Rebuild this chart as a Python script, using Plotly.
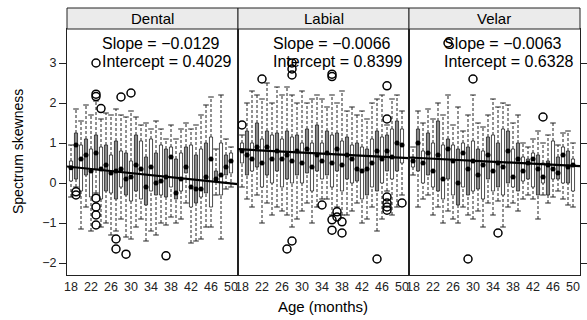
import plotly.graph_objects as go

W, H = 587, 320

ages = list(range(18, 51))
panels = ["Dental", "Labial", "Velar"]
slopes = [-0.0129, -0.0066, -0.0063]
intercepts = [0.4029, 0.8399, 0.6328]
slope_labels = ["Slope = −0.0129", "Slope = −0.0066", "Slope = −0.0063"]
intercept_labels = ["Intercept = 0.4029", "Intercept = 0.8399", "Intercept = 0.6328"]
x_ticks = [18, 22, 26, 30, 34, 38, 42, 46, 50]
y_ticks = [-2, -1, 0, 1, 2, 3]
y_tick_text = ["−2", "−1", "0", "1", "2", "3"]

# ---- Dental ----
dental_lo = [-0.35, -0.1, -1.15, -0.6, -1.2, -0.25, -1.1, -1.0, -1.3, -1.2, -0.9, -1.35, -1.4, -1.1, -0.9, -1.45, -1.2,
             -1.3, -1.0, -1.05, -0.85, -1.0, -0.9, -0.5, -1.5, -1.45, -1.4, -1.1, -1.1, -0.3, -1.4, -0.15, -0.1]
dental_q1 = [0.05, 0.1, -0.2, 0.2, -0.35, 0.35, -0.4, -0.2, -0.25, -0.4, -0.1, -0.3, -0.45, -0.2, -0.4, -0.55, -0.2,
             -0.3, -0.3, -0.35, -0.1, -0.4, -0.2, 0.25, -0.6, -0.5, -0.35, -0.25, -0.6, 0.05, -0.3, 0.2, 0.25]
dental_med = [0.38, 0.95, 0.6, 0.7, 0.3, 0.75, 0.35, 0.45, 0.25, 0.3, 0.35, 0.1, 0.15, 0.45, 0.35, -0.1, 0.4,
              0.0, 0.05, 0.15, 0.65, -0.25, 0.1, 0.4, -0.1, -0.15, -0.15, 0.15, 0.6, 0.1, 0.2, 0.4, 0.55]
dental_q3 = [0.55, 1.25, 0.95, 1.1, 0.85, 1.2, 0.9, 0.95, 0.7, 1.05, 0.8, 0.75, 0.55, 1.2, 1.05, 0.65, 1.1,
             0.75, 0.95, 0.85, 0.9, 0.6, 0.75, 0.9, 0.95, 0.7, 0.85, 1.0, 1.15, 0.3, 1.0, 0.7, 0.75]
dental_hi = [0.95, 1.85, 1.55, 1.95, 1.7, 2.05, 1.6, 1.75, 1.7, 1.85, 1.7, 1.65, 1.8, 1.65, 1.45, 1.5, 1.35,
             1.55, 1.35, 1.1, 1.45, 1.1, 1.35, 1.5, 1.35, 1.45, 1.7, 1.95, 2.15, 0.85, 2.2, 1.1, 0.9]
dental_out_x = [23, 23, 23, 24, 28, 30, 19, 19, 23, 23, 23, 23, 27, 27, 29, 37]
dental_out_y = [3.0, 2.22, 2.16, 1.86, 2.15, 2.25, -0.22, -0.3, -0.38, -0.6, -0.8, -1.05, -1.4, -1.65, -1.78, -1.82]

# ---- Labial ----
labial_lo = [-0.1, -0.4, -0.6, -0.3, -1.0, -0.5, -0.8, -0.6, -0.7, -0.8, -1.1, -0.9, -0.7, -0.5, -1.0, -0.6, -0.4,
             -0.4, -0.8, -0.6, -0.8, -0.8, -0.7, -0.5, -1.0, -0.9, -0.6, -1.2, -0.9, -0.2, -0.8, -0.6, -0.3]
labial_q1 = [0.5, 0.2, 0.3, 0.4, -0.1, 0.2, 0.0, 0.3, -0.1, 0.1, 0.0, 0.2, 0.0, 0.25, -0.2, 0.3, 0.1,
             0.2, -0.1, 0.3, -0.2, 0.1, 0.0, 0.05, -0.4, -0.3, -0.1, -0.2, 0.0, 0.3, 0.1, 0.3, 0.5]
labial_med = [0.8, 0.7, 0.6, 0.9, 0.5, 0.9, 0.6, 0.8, 0.6, 0.7, 0.55, 0.8, 0.5, 0.85, 0.4, 0.7, 0.55,
              0.75, 0.5, 0.85, 0.45, 0.7, 0.6, 0.35, 0.3, 0.35, 0.5, 0.8, 0.6, 0.8, 0.65, 1.0, 0.95]
labial_q3 = [1.0, 1.3, 1.0, 1.5, 1.1, 1.3, 1.2, 1.25, 1.1, 1.3, 1.15, 1.2, 1.0, 1.35, 1.0, 1.45, 1.0,
             1.3, 1.2, 1.25, 1.05, 1.15, 0.95, 1.0, 0.9, 0.85, 1.1, 1.3, 1.15, 1.2, 1.35, 1.55, 1.35]
labial_hi = [1.2, 2.0, 2.3, 2.2, 2.1, 2.5, 2.0, 2.4, 2.2, 2.4, 2.2, 2.0, 2.3, 2.0, 2.1, 2.2, 2.1,
             1.9, 2.2, 2.0, 2.3, 1.8, 1.9, 1.7, 1.8, 1.6, 2.0, 2.1, 2.2, 1.45, 2.1, 2.2, 1.8]
labial_out_x = [22, 28, 28, 28, 36, 36, 47, 47, 18, 34, 37, 37, 36, 38, 36, 38, 28, 27, 45, 47, 47, 47, 47, 50]
labial_out_y = [2.6, 3.0, 2.85, 2.7, 2.72, 2.66, 2.43, 1.6, 1.45, -0.55, -0.72, -0.85, -0.92, -0.97, -1.18, -1.25,
                -1.45, -1.65, -1.9, -0.35, -0.5, -0.6, -0.68, -0.5]

# ---- Velar ----
velar_lo = [0.2, -0.6, -0.4, -0.3, -0.8, -0.6, -1.0, -0.7, -0.9, -1.0, -0.6, -0.8, -0.9, -0.7, -1.1, -0.5, -0.8,
            -0.45, -1.1, -0.6, -0.5, -0.7, -0.4, -0.3, -0.4, -0.9, -0.3, -0.5, -0.35, -0.2, -0.4, -0.55, -0.6]
velar_q1 = [0.4, 0.3, 0.0, 0.2, -0.1, -0.2, -0.4, 0.1, -0.3, -0.55, -0.1, -0.3, -0.2, -0.15, -0.4, 0.1, -0.2,
            -0.1, -0.3, 0.0, -0.1, -0.2, 0.05, 0.1, -0.1, -0.3, 0.0, -0.3, 0.1, 0.1, 0.0, 0.0, -0.2]
velar_med = [0.55, 1.0, 0.5, 0.75, 0.3, 0.7, 0.1, 0.85, 0.55, 0.0, 0.75, 0.35, 0.55, 0.2, 0.45, 0.7, 0.3,
             0.5, 0.4, 0.8, 0.15, 0.6, 0.3, 0.5, 0.6, 0.35, 0.15, 0.45, 0.35, 0.25, 0.7, 0.4, 0.45]
velar_q3 = [0.65, 1.35, 0.8, 1.25, 1.0, 1.55, 0.95, 1.1, 0.95, 0.85, 1.0, 0.9, 1.05, 0.85, 0.8, 1.15, 1.2,
            1.0, 1.35, 1.3, 0.85, 1.0, 0.65, 0.6, 0.75, 0.7, 0.5, 0.55, 1.05, 0.65, 0.9, 0.8, 0.6]
velar_hi = [0.9, 1.8, 1.5, 1.85, 1.6, 2.0, 1.7, 2.2, 1.45, 1.9, 1.3, 1.7, 2.2, 1.5, 1.4, 1.7, 2.1,
            1.9, 2.0, 1.95, 1.5, 1.7, 1.0, 0.9, 1.1, 1.3, 1.0, 1.2, 1.5, 0.95, 1.25, 1.3, 1.0]
velar_out_x = [25, 30, 44, 35, 29]
velar_out_y = [3.5, 2.6, 1.65, -1.25, -1.9]

data = [
    (dental_lo, dental_q1, dental_med, dental_q3, dental_hi, dental_out_x, dental_out_y),
    (labial_lo, labial_q1, labial_med, labial_q3, labial_hi, labial_out_x, labial_out_y),
    (velar_lo, velar_q1, velar_med, velar_q3, velar_hi, velar_out_x, velar_out_y),
]

FONT = "Liberation Sans, Arial, Helvetica, sans-serif"
XR = [17.2, 51.4]
YR = [-2.3, 3.85]

# panel pixel geometry
panel_left = [67, 238, 409]
panel_w = 171
panel_top, panel_bot = 29, 275
strip_top = 8

fig = go.Figure()
annotations = []
shapes = []

for i, (name, d) in enumerate(zip(panels, data)):
    lo, q1, med, q3, hi, ox, oy = d
    xa = "x" if i == 0 else f"x{i+1}"
    ya = "y" if i == 0 else f"y{i+1}"

    # whiskers (dashed)
    wx, wy = [], []
    for a, l, b1, b3, h in zip(ages, lo, q1, q3, hi):
        wx += [a, a, None, a, a, None]
        wy += [b3, h, None, l, b1, None]
    fig.add_trace(go.Scatter(x=wx, y=wy, mode="lines", xaxis=xa, yaxis=ya,
                             line=dict(color="#222", width=1, dash="3px,2px"),
                             hoverinfo="skip", showlegend=False))
    # caps
    fig.add_trace(go.Scatter(x=ages + ages, y=hi + lo, mode="markers", xaxis=xa, yaxis=ya,
                             marker=dict(symbol="line-ew", size=4, line=dict(color="#222", width=1)),
                             hoverinfo="skip", showlegend=False))
    # boxes
    fills = ["#8a8a8a" if k % 2 else "white" for k in range(len(ages))]
    fig.add_trace(go.Bar(x=ages, y=[b - a for a, b in zip(q1, q3)], base=q1, width=0.62,
                         xaxis=xa, yaxis=ya,
                         marker=dict(color=fills, line=dict(color="#222", width=0.8)),
                         hoverinfo="skip", showlegend=False))
    # medians
    fig.add_trace(go.Scatter(x=ages, y=med, mode="markers", xaxis=xa, yaxis=ya,
                             marker=dict(symbol="circle", size=5, color="black"),
                             hoverinfo="skip", showlegend=False))
    # outliers
    fig.add_trace(go.Scatter(x=ox, y=oy, mode="markers", xaxis=xa, yaxis=ya,
                             marker=dict(symbol="circle-open", size=8, color="black", line=dict(width=1.5)),
                             hoverinfo="skip", showlegend=False))
    # regression line
    fig.add_trace(go.Scatter(x=XR, y=[intercepts[i] + slopes[i] * (x - 18) for x in XR], mode="lines",
                             xaxis=xa, yaxis=ya, line=dict(color="black", width=2.2),
                             hoverinfo="skip", showlegend=False))

    x0 = panel_left[i] / W
    x1 = (panel_left[i] + panel_w) / W
    xkey = "xaxis" if i == 0 else f"xaxis{i+1}"
    ykey = "yaxis" if i == 0 else f"yaxis{i+1}"
    fig.layout[xkey] = dict(domain=[x0, x1], range=XR, anchor=ya, showgrid=False, zeroline=False,
                            showline=True, mirror=True, linecolor="#222", linewidth=1, automargin=False,
                            tickvals=x_ticks, ticktext=[str(t) for t in x_ticks], ticks="",
                            tickfont=dict(family=FONT, size=12.5, color="#222"))
    ydict = dict(domain=[1 - panel_bot / H, 1 - panel_top / H], range=YR, anchor=xa, showgrid=False,
                 zeroline=False, showline=True, mirror=True, linecolor="#222", linewidth=1, automargin=False,
                 tickvals=y_ticks, ticktext=y_tick_text, tickfont=dict(family=FONT, size=12.5, color="#222"),
                 ticklen=7, tickcolor="#222")
    if i == 0:
        ydict.update(side="left", ticks="outside", showticklabels=True)
    elif i == 1:
        ydict.update(ticks="", showticklabels=False)
    else:
        ydict.update(side="right", ticks="outside", showticklabels=False)
    fig.layout[ykey] = ydict

    # strip
    shapes.append(dict(type="rect", xref="paper", yref="paper", x0=x0, x1=x1,
                       y0=1 - panel_top / H, y1=1 - strip_top / H,
                       fillcolor="#ebebeb", line=dict(color="#222", width=1), layer="above"))
    annotations.append(dict(text=name, xref="paper", yref="paper", x=(x0 + x1) / 2,
                            y=1 - (strip_top + panel_top) / 2 / H, showarrow=False,
                            xanchor="center", yanchor="middle", font=dict(family=FONT, size=15, color="black")))
    # slope / intercept text
    annotations.append(dict(text=slope_labels[i], xref="paper", yref="paper", x=(panel_left[i] + 33) / W,
                            y=1 - 43 / H, showarrow=False, xanchor="left", yanchor="middle",
                            font=dict(family=FONT, size=16, color="black")))
    annotations.append(dict(text=intercept_labels[i], xref="paper", yref="paper", x=(panel_left[i] + 33) / W,
                            y=1 - 62 / H, showarrow=False, xanchor="left", yanchor="middle",
                            font=dict(family=FONT, size=16, color="black")))

annotations.append(dict(text="Age (months)", xref="paper", yref="paper", x=323 / W, y=1 - 306 / H,
                        showarrow=False, xanchor="center", yanchor="middle",
                        font=dict(family=FONT, size=15, color="black")))
annotations.append(dict(text="Spectrum skewness", xref="paper", yref="paper", x=18 / W, y=1 - 152 / H,
                        showarrow=False, xanchor="center", yanchor="middle", textangle=-90,
                        font=dict(family=FONT, size=14, color="black")))

fig.update_layout(width=W, height=H, margin=dict(l=0, r=0, t=0, b=0, autoexpand=False),
                  paper_bgcolor="white", plot_bgcolor="white", barmode="overlay",
                  showlegend=False, annotations=annotations, shapes=shapes)

fig.write_html("out.html", config={"displayModeBar": False},
               post_script="document.body.style.margin='0px';document.body.style.overflow='hidden';")
